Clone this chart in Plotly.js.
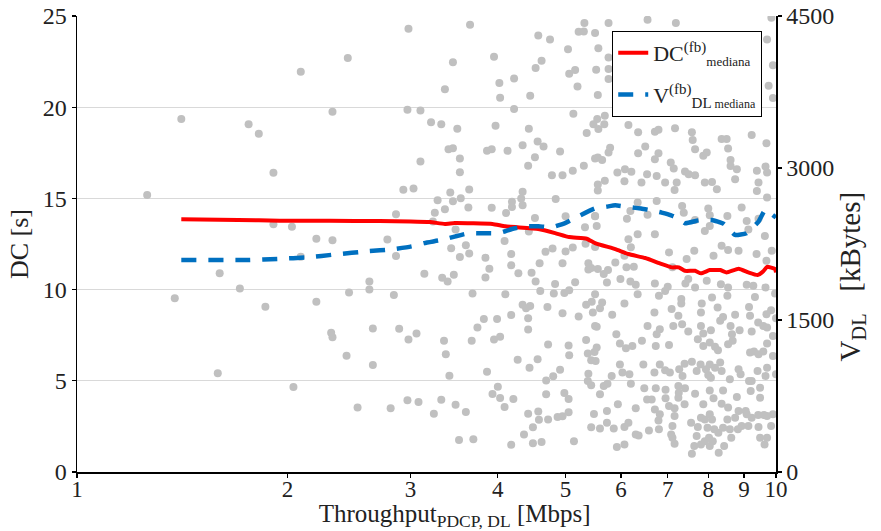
<!DOCTYPE html>
<html>
<head>
<meta charset="utf-8">
<script src="https://cdn.plot.ly/plotly-3.0.1.min.js"></script>
<style>html,body{margin:0;padding:0;background:#fff;}#chart{width:881px;height:531px;}</style>
</head>
<body>
<div id="chart"></div>
<script>
// ---- data ----
const xTickVals = [1, 2, 3, 4, 5, 6, 7, 8, 9, 10];
const xTickText = ['1', '2', '3', '4', '5', '6', '7', '8', '9', '10'];
const yLeftTicks = [0, 5, 10, 15, 20, 25];
const yRightTicks = [0, 1500, 3000, 4500];

// median DC (left axis, s)
const dcMedX = [1.41, 1.70, 1.95, 2.30, 2.71, 3.00, 3.20, 3.36, 3.47, 3.93, 4.10, 4.57, 4.83, 5.06, 5.36, 5.51, 5.89, 6.15, 6.50, 6.82, 7.10, 7.26, 7.41, 7.66, 7.81, 8.04, 8.32, 8.50, 8.84, 9.13, 9.41, 9.59, 9.71, 9.97, 10.0];
const dcMedY = [13.86, 13.82, 13.78, 13.77, 13.76, 13.74, 13.70, 13.60, 13.65, 13.60, 13.47, 13.32, 13.10, 12.88, 12.79, 12.55, 12.22, 11.95, 11.73, 11.44, 11.22, 11.22, 11.03, 11.03, 10.89, 11.07, 11.07, 10.94, 11.14, 10.94, 10.80, 11.00, 11.25, 11.13, 10.94];

// median V_DL (right axis, kBytes)
const vMedX = [1.41, 1.75, 1.95, 2.13, 2.35, 2.60, 2.83, 3.01, 3.14, 3.34, 3.48, 3.63, 3.80, 4.00, 4.10, 4.19, 4.38, 4.57, 4.78, 5.00, 5.22, 5.50, 5.73, 5.89, 6.18, 6.41, 6.60, 6.86, 7.08, 7.25, 7.41, 7.79, 8.09, 8.42, 8.74, 9.07, 9.44, 9.65, 10.0];
const vMedY = [2092, 2092, 2104, 2118, 2148, 2178, 2198, 2227, 2259, 2293, 2326, 2356, 2356, 2356, 2376, 2398, 2425, 2425, 2415, 2458, 2524, 2599, 2619, 2632, 2613, 2600, 2585, 2560, 2533, 2500, 2455, 2487, 2487, 2448, 2339, 2356, 2471, 2586, 2511];

// individual samples [throughput Mbps, DC s]
const samples = [
[2.98,24.3],[2.44,22.7],[2.09,21.95],[2.97,19.86],[2.32,19.75],[1.41,19.35],[1.76,19.06],[1.82,18.54],[1.91,16.4],[1.26,15.19],[2.93,15.47],[2.86,14.13],[1.91,13.58],[2.03,13.45],[2.20,12.79],[2.32,12.70],[2.78,12.75],[2.86,11.84],[2.09,11.8],[1.60,10.89],[1.71,10.06],[1.38,9.53],[1.86,9.06],[2.20,9.33],[2.45,9.84],[2.62,10.45],[2.62,10.01],[2.84,9.70],[2.31,7.63],[2.32,7.39],[2.65,7.87],[2.89,7.85],[2.98,7.26],[2.43,6.38],[2.65,5.87],[1.59,5.41],[2.04,4.66],[2.52,3.53],[2.81,3.49],[2.97,3.93],
[3.65,24.52],[3.45,22.46],[3.36,20.98],[3.95,22.76],[4.02,21.32],[4.03,20.52],[4.22,21.57],[4.45,20.63],[4.53,22.15],[4.62,22.55],[4.57,23.93],[4.75,23.71],[5.04,23.18],[5.06,21.84],[5.16,22.04],[5.20,21.14],[5.32,24.62],[5.22,24.13],[5.31,24.15],[5.51,24.07],[3.10,19.82],[4.22,19.90],[5.13,19.64],[3.21,19.18],[3.32,19.06],[3.50,18.82],[3.97,18.98],[4.43,18.82],[5.48,19.06],[5.36,18.58],[3.40,17.70],[3.45,17.75],[3.86,17.61],[3.92,17.70],[4.13,17.61],[4.34,17.92],[4.56,18.12],[4.65,17.85],[4.91,17.57],[3.10,17.02],[3.53,17.19],[4.52,17.26],[4.42,16.79],[5.31,16.79],[5.51,17.19],
[3.53,16.44],[4.78,16.27],[4.95,16.27],[5.12,16.51],[3.03,15.54],[3.42,15.32],[3.64,15.49],[3.28,14.90],[3.45,14.85],[3.54,15.01],[3.63,14.5],[3.36,14.40],[3.25,14.22],[4.34,15.36],[4.32,15.0],[4.19,14.81],[4.34,14.62],[4.19,14.53],[3.92,14.49],[4.11,14.2],[4.84,14.97],[5.56,15.76],[5.56,15.43],[4.52,13.93],[5.0,14.02],[5.51,14.02],[3.48,13.29],[4.43,13.19],[5.33,13.42],[3.23,13.74],[3.60,12.43],[3.43,12.27],[4.09,12.67],[3.64,11.98],[3.53,11.79],[3.84,11.75],[4.18,11.95],[4.18,11.33],[3.89,11.14],[3.14,10.87],[3.33,10.65],[3.39,10.45],[3.46,10.81],[3.84,10.66],[4.28,10.89],[4.47,10.92],[4.59,11.45],[4.68,12.07],[4.79,12.26],[4.95,11.45],[5.0,12.09],[5.12,12.31],[5.34,12.51],[5.51,12.34],[5.39,11.44],[5.44,11.18],[5.39,11.1],[4.53,10.45],[4.6,9.93],[4.83,10.31],[4.81,9.79],[5.06,9.96],[4.98,9.81],[5.16,10.40],[3.68,9.79],[4.10,9.75],[4.34,9.17],[4.39,8.98],[4.45,9.1],[4.71,9.05],[4.95,8.7],[5.35,9.17],[5.45,9.34],[5.47,8.75],[3.82,8.39],[3.99,8.39],[4.18,8.61],[4.42,8.43],[5.22,8.52],
[3.74,7.92],[3.06,7.59],[3.35,7.19],[3.37,6.46],[3.67,7.19],[3.95,7.26],[4.03,7.41],[4.42,7.81],[4.72,6.99],[5.05,6.93],[5.06,6.40],[5.35,7.24],[5.38,6.49],[5.50,6.58],[5.54,7.96],[4.27,6.16],[4.56,6.18],[4.44,5.72],[5.44,6.13],[3.41,5.28],[3.86,5.49],[4.91,5.61],[4.80,5.25],[4.69,5.01],[5.39,5.39],[5.38,4.99],[5.44,4.75],[3.08,3.84],[3.32,3.96],[3.24,3.20],[3.48,3.69],[3.60,3.29],[4.00,4.68],[3.93,4.28],[4.03,4.06],[4.09,3.56],[4.21,4.00],[4.69,4.26],[4.98,4.33],[5.05,4.0],[4.42,3.20],[4.57,3.32],[4.58,2.87],[4.72,2.88],[4.87,3.01],[4.95,3.05],[5.05,3.27],[4.49,2.46],[4.36,2.06],[5.44,2.46],[5.49,3.18],[3.52,1.75],[3.69,1.79],[4.18,1.49],[4.49,1.58],[4.62,1.64],[5.14,1.69],
[5.76,24.62],[6.55,24.8],[7.19,24.62],[9.85,24.9],[5.57,23.23],[5.76,22.72],[9.71,23.71],[9.9,22.3],[5.53,22.06],[5.76,22.1],[5.76,21.55],[9.76,21.18],[9.9,20.5],[5.56,20.67],[5.55,19.35],[5.69,19.53],[5.68,19.07],[5.57,18.8],[6.15,19.02],[6.35,18.62],[6.71,18.65],[6.79,18.76],[7.17,18.84],[7.58,18.62],[7.6,18.2],[8.36,18.25],[8.5,18.25],[8.54,17.74],[9.23,18.47],[9.69,18.03],[5.79,17.78],[5.76,17.52],[5.56,17.24],[5.64,17.11],[6.35,17.48],[6.5,17.84],[6.79,17.48],[6.71,17.15],[7.07,16.97],[7.14,16.64],[7.41,16.48],[7.66,17.7],[7.87,17.34],[7.96,17.52],[8.61,17.11],[8.61,16.78],[8.79,16.6],[9.39,16.51],[9.66,16.75],[9.71,16.42],[6.08,16.6],[6.21,16.46],[5.93,16.42],[6.54,16.33],[5.69,15.97],[6.07,15.94],[6.42,15.87],[6.75,16.23],[6.94,15.87],[7.21,15.87],[7.5,16.33],[7.66,16.27],[7.91,15.87],[8.10,15.9],[8.23,15.5],[8.74,16.05],[9.44,15.87],[5.51,14.04],[6.19,14.31],[6.12,13.89],[6.34,14.77],[6.55,14.11],[6.75,14.86],[7.16,15.46],[7.34,14.59],[7.38,14.22],[7.66,13.82],[8.0,14.44],[8.04,14.07],[8.04,13.48],[7.91,13.21],[8.52,14.04],[8.93,14.5],[9.08,13.76],[9.13,13.3],[9.44,13.89],[9.39,15.41],[9.71,15.05],[6.71,13.03],[6.34,13.03],[6.15,12.76],[5.54,13.49],[9.64,12.94],
[6.2,12.32],[6.07,11.86],[6.11,11.22],[6.26,11.25],[5.89,11.49],[5.75,11.07],[5.67,10.85],[5.73,10.39],[5.56,11.13],[5.99,10.58],[6.19,10.45],[6.3,10.27],[6.34,9.75],[6.71,10.34],[7.03,12.04],[7.11,11.22],[7.45,11.68],[7.64,12.13],[8.14,11.86],[8.36,12.41],[8.54,12.17],[8.84,12.13],[9.38,11.95],[9.69,11.58],[9.86,12.13],[7.49,10.58],[7.42,10.34],[7.66,10.12],[7.96,10.48],[8.10,9.57],[8.34,10.3],[8.54,10.12],[8.52,9.66],[9.08,10.27],[9.28,10.21],[9.33,9.6],[9.66,10.12],[9.97,9.79],[7.0,10.15],[6.94,9.93],[6.80,9.66],[7.32,9.48],
[5.51,9.75],[5.64,9.29],[5.60,8.98],[6.07,9.24],[5.83,8.62],[6.70,8.75],[7.09,8.93],[7.32,9.24],[7.83,9.24],[7.81,8.75],[7.25,8.56],[8.25,9.02],[8.4,8.5],[8.32,8.29],[8.74,8.62],[9.15,9.05],[9.18,8.56],[9.69,8.65],[9.84,8.87],[10.0,8.43],[5.51,8.01],[6.55,8.01],[6.75,7.55],[6.82,7.83],[7.13,8.01],[7.34,8.1],[7.49,7.7],[7.81,8.01],[7.87,7.59],[8.07,7.77],[8.61,8.01],[8.65,7.55],[8.87,7.77],[9.23,7.7],[9.43,8.2],[9.59,8.01],[9.71,7.92],[9.9,7.46],[5.91,7.55],[5.98,7.04],[6.1,6.78],[6.23,6.91],[6.43,7.19],[6.73,6.91],[7.03,6.96],[5.54,6.82],[5.52,6.09],[7.73,7.28],[7.87,6.91],[8.04,7.1],[8.18,6.86],[8.26,6.67],[8.54,7.0],[8.67,7.19],[9.18,6.55],[9.3,6.6],[9.44,6.46],[9.59,6.6],[9.71,7.04],[9.9,6.36],[5.98,5.9],[6.03,5.45],[6.17,5.36],[6.46,5.9],[6.82,5.9],[6.7,5.45],[6.94,5.58],[7.05,5.45],[7.27,5.63],[7.4,5.94],[7.35,5.27],[7.58,6.05],[7.7,5.54],[7.8,5.9],[7.94,5.63],[8.0,5.32],[8.04,5.9],[8.18,5.72],[8.32,6.0],[8.36,5.54],[8.07,5.17],[8.59,5.08],[8.84,5.63],[8.9,5.36],[9.15,4.99],[9.41,5.54],[9.71,5.72],[9.66,5.27],[10.0,5.36],[5.82,5.27],[6.2,4.84],
[5.67,4.72],[5.74,4.84],[5.60,4.26],[5.94,3.71],[5.73,3.34],[6.3,3.49],[5.73,2.70],[5.60,2.39],[5.86,2.39],[6.07,2.47],[6.15,2.70],[6.3,2.06],[6.36,2.0],[5.92,1.37],[6.07,1.51],[6.48,4.59],[6.54,3.98],[6.64,3.98],[6.73,4.59],[6.95,4.51],[6.95,4.04],[6.71,3.43],[6.82,3.16],[6.79,2.83],[7.03,3.62],[7.16,3.49],[7.16,3.07],[7.25,4.72],[7.26,4.35],[7.41,4.59],[7.25,4.07],[7.4,3.71],[7.66,4.29],[7.87,3.71],[8.04,4.47],[8.14,4.04],[8.4,4.47],[8.36,3.74],[8.54,3.53],[8.79,4.11],[9.23,4.99],[9.49,4.62],[9.49,4.07],[9.2,4.44],[8.84,3.34],[9.08,3.16],[9.23,2.98],[9.43,3.12],[9.61,3.12],[9.71,3.07],[9.9,3.16],[9.84,2.52],[9.71,1.88],[9.63,1.51],[9.44,2.47],[9.13,2.52],[8.93,2.52],[8.82,2.34],[8.74,2.98],[8.52,2.88],[8.4,2.43],[8.59,2.34],[8.63,1.88],[8.43,1.42],[8.28,1.05],[8.04,3.16],[8.10,2.88],[7.91,2.88],[7.81,2.98],[7.98,2.43],[8.16,2.34],[8.27,2.15],[8.02,1.88],[8.12,1.69],[7.91,1.69],[7.73,2.47],[7.7,1.97],[7.81,1.51],[7.64,1.42],[7.58,1.0],[8.04,1.42],[7.56,2.70],[7.11,2.52],[7.08,2.06],[7.11,1.88],[7.16,1.55],[6.58,2.28],[6.8,2.34],[9.05,3.34],[9.49,1.88]
];

// ---- chart ----
const FONT = 'Liberation Serif, Times New Roman, serif';
const NB = '\u00A0';
const ZW = '\u200B'; // keeps padding from being trimmed
const traces = [
  {
    x: samples.map(p => p[0]), y: samples.map(p => p[1]),
    type: 'scatter', mode: 'markers', showlegend: false, hoverinfo: 'skip',
    marker: {color: '#c0c0c0', size: 8, line: {width: 0}}
  },
  {
    x: dcMedX, y: dcMedY, type: 'scatter', mode: 'lines', legendgroup: 'a',
    name: "DC<sup><span style='font-size:15px'>(fb)</span></sup><sub><span style='font-size:13px'>mediana</span></sub>",
    line: {color: '#ff0000', width: 4, shape: 'spline', smoothing: 0.4}
  },
  {
    x: vMedX, y: vMedY, yaxis: 'y2', type: 'scatter', mode: 'lines', legendgroup: 'b',
    name: "V<sup><span style='font-size:15px'>(fb)</span></sup><sub><span style='font-size:15px'>DL</span><span style='font-size:12px'> mediana</span></sub>",
    line: {color: '#0070c0', width: 4.5, dash: '15px,12px', shape: 'spline', smoothing: 0.4}
  }
];

const axisCommon = {
  showline: true, linecolor: '#000', linewidth: 1.5,
  ticks: 'outside', ticklen: 4, tickwidth: 1.2, tickcolor: '#000',
  tickfont: {family: FONT, size: 24, color: '#222'},
  zeroline: false
};

const layout = {
  width: 881, height: 531,
  margin: {l: 77, r: 105, t: 16, b: 59},
  paper_bgcolor: '#fff', plot_bgcolor: '#fff',
  font: {family: FONT, color: '#222'},
  xaxis: Object.assign({}, axisCommon, {
    type: 'log', range: [0, 1],
    tickmode: 'array', tickvals: xTickVals, ticktext: xTickText,
    tickfont: {family: FONT, size: 23, color: '#222'},
    ticklabelstandoff: -8,
    showgrid: false,
    title: {text: ZW + NB.repeat(9) + 'Throughput<sub>PDCP, DL</sub> [Mbps]', font: {family: FONT, size: 25, color: '#222'}, standoff: 7}
  }),
  yaxis: Object.assign({}, axisCommon, {
    range: [0, 25], tickmode: 'array', tickvals: yLeftTicks,
    showgrid: true, gridcolor: '#d9d9d9', gridwidth: 1,
    title: {text: 'DC [s]', font: {family: FONT, size: 26, color: '#222'}, standoff: 6}
  }),
  yaxis2: Object.assign({}, axisCommon, {
    overlaying: 'y', side: 'right',
    range: [0, 4500], tickmode: 'array', tickvals: yRightTicks,
    showgrid: false,
    title: {text: 'V<sub>DL</sub>' + NB.repeat(3) + '[kBytes]' + NB.repeat(9) + ZW, font: {family: FONT, size: 29, color: '#222'}, standoff: 6}
  }),
  legend: {
    x: 0.873, y: 0.967, xanchor: 'center', yanchor: 'top',
    bgcolor: '#fff', bordercolor: '#000', borderwidth: 1,
    font: {family: FONT, size: 22, color: '#222'},
    tracegroupgap: 10, itemwidth: 30
  },
  showlegend: true
};

Plotly.newPlot('chart', traces, layout, {displayModeBar: false, staticPlot: true});
</script>
</body>
</html>
